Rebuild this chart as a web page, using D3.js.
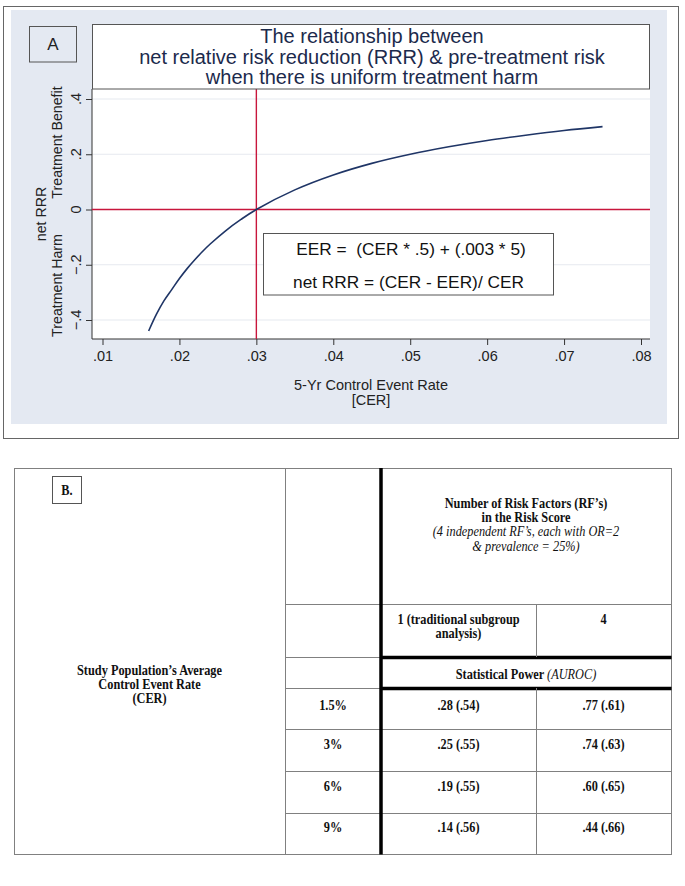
<!DOCTYPE html>
<html>
<head>
<meta charset="utf-8">
<script src="https://cdn.jsdelivr.net/npm/d3@7"></script>
<style>
  html, body { margin: 0; padding: 0; background: #fff; }
  svg { display: block; }
  text { white-space: pre; }
</style>
</head>
<body>
<div id="chart"></div>
<script>
// panel A: net RRR against 5-yr control event rate
const cerValues = [0.016, 0.017, 0.018, 0.019, 0.020, 0.021, 0.022, 0.023, 0.024, 0.026, 0.028, 0.030, 0.035, 0.040, 0.045, 0.050, 0.055, 0.060, 0.065, 0.070, 0.075];
const netRRR    = [-0.44, -0.38, -0.33, -0.29, -0.25, -0.214, -0.182, -0.152, -0.125, -0.077, -0.036, 0.0, 0.071, 0.125, 0.167, 0.20, 0.227, 0.25, 0.269, 0.286, 0.30];
const xTicks = [0.01, 0.02, 0.03, 0.04, 0.05, 0.06, 0.07, 0.08];
const yTicks = [-0.4, -0.2, 0, 0.2, 0.4];
const refCER = 0.03;   // vertical red line
const refRRR = 0;      // horizontal red line

const titleLines = ['The relationship between',
  'net relative risk reduction (RRR) & pre-treatment risk',
  'when there is uniform treatment harm'];
const formulaLines = ['EER =  (CER * .5) + (.003 * 5)', 'net RRR = (CER - EER)/ CER'];

// panel B: table
const cerRows = ['1.5%', '3%', '6%', '9%'];
const power1 = [0.28, 0.25, 0.19, 0.14];
const auroc1 = [0.54, 0.55, 0.55, 0.56];
const power4 = [0.77, 0.74, 0.60, 0.44];
const auroc4 = [0.61, 0.63, 0.65, 0.66];

(function(){
  const W = 685, H = 886;
  const svg = d3.select('#chart').append('svg').attr('width', W).attr('height', H);

  const sans = 'Liberation Sans, Arial, Helvetica, sans-serif';
  const serif = 'Liberation Serif, Times New Roman, serif';
  const navy = '#1f3566';
  const red = '#c8163c';

  // ---------- panel A ----------
  svg.append('rect').attr('x', 3.5).attr('y', 6.5).attr('width', 675).attr('height', 432)
    .attr('fill', '#fff').attr('stroke', '#666');
  svg.append('rect').attr('x', 11).attr('y', 10).attr('width', 656).attr('height', 414)
    .attr('fill', '#e4e9f2');

  const plot = { left: 92, right: 650, top: 89, bottom: 339 };
  const x = d3.scaleLinear().domain([0.01, 0.08]).range([102.5, 641]);
  const y = d3.scaleLinear().domain([-0.4, 0.4]).range([320, 99]);

  svg.append('rect').attr('x', plot.left).attr('y', plot.top)
    .attr('width', plot.right - plot.left).attr('height', plot.bottom - plot.top).attr('fill', '#fff');

  // gridlines
  svg.append('g').selectAll('line').data(yTicks.filter(d => d !== 0)).enter().append('line')
    .attr('x1', plot.left).attr('x2', plot.right)
    .attr('y1', d => y(d)).attr('y2', d => y(d))
    .attr('stroke', '#e6e9ef').attr('stroke-width', 1.2);

  // axes
  const xAxis = d3.axisBottom(x).tickValues(xTicks).tickSize(6).tickPadding(4)
    .tickFormat(d => d3.format('.2f')(d).replace(/^0/, ''));
  const gx = svg.append('g').attr('transform', `translate(0,${plot.bottom})`).call(xAxis);
  gx.select('.domain').remove();
  gx.selectAll('.tick line').attr('stroke', '#333');
  gx.selectAll('.tick text').attr('font-family', sans).attr('font-size', 14.5).attr('fill', '#222')
    .attr('y', 17).attr('dy', '0.36em');
  svg.append('line').attr('x1', plot.left).attr('x2', plot.right)
    .attr('y1', plot.bottom).attr('y2', plot.bottom).attr('stroke', '#333');

  const yAxis = d3.axisLeft(y).tickValues(yTicks).tickSize(6).tickFormat(() => '');
  const gy = svg.append('g').attr('transform', `translate(${plot.left},0)`).call(yAxis);
  gy.select('.domain').remove();
  gy.selectAll('.tick line').attr('stroke', '#333');
  svg.append('line').attr('x1', plot.left).attr('x2', plot.left)
    .attr('y1', plot.top).attr('y2', plot.bottom).attr('stroke', '#333');

  // rotated y tick labels
  svg.append('g').selectAll('text').data(yTicks).enter().append('text')
    .attr('transform', d => `translate(76,${y(d)}) rotate(-90)`)
    .attr('text-anchor', 'middle').attr('dy', '0.36em')
    .attr('font-family', sans).attr('font-size', 14.5).attr('fill', '#222')
    .text(d => d === 0 ? '0' : d3.format('.1f')(d).replace('0.', '.'));

  // reference lines
  svg.append('line').attr('x1', x(refCER)).attr('x2', x(refCER))
    .attr('y1', plot.top).attr('y2', plot.bottom).attr('stroke', red).attr('stroke-width', 1.4);
  svg.append('line').attr('x1', plot.left).attr('x2', plot.right)
    .attr('y1', y(refRRR)).attr('y2', y(refRRR)).attr('stroke', red).attr('stroke-width', 1.4);

  // curve
  const pts = cerValues.map((c, i) => [c, netRRR[i]]);
  svg.append('path').datum(pts)
    .attr('d', d3.line().x(d => x(d[0])).y(d => y(d[1])).curve(d3.curveCatmullRom))
    .attr('fill', 'none').attr('stroke', navy).attr('stroke-width', 1.6);

  // title box
  svg.append('rect').attr('x', 92.5).attr('y', 24.5).attr('width', 557).attr('height', 64.5)
    .attr('fill', '#fff').attr('stroke', '#555');
  svg.append('g').selectAll('text').data(titleLines).enter().append('text')
    .attr('x', 372).attr('y', (d, i) => 36 + i * 20.5).attr('dy', '0.36em')
    .attr('text-anchor', 'middle').attr('font-family', sans).attr('font-size', 20)
    .attr('fill', '#1c2a4c').text(d => d);

  // "A" box
  svg.append('rect').attr('x', 29.5).attr('y', 26.5).attr('width', 47).attr('height', 35.5)
    .attr('fill', '#e4e9f2').attr('stroke', '#555');
  svg.append('text').attr('x', 53).attr('y', 44).attr('dy', '0.36em').attr('text-anchor', 'middle')
    .attr('font-family', sans).attr('font-size', 17).attr('fill', '#222').text('A');

  // formula box
  svg.append('rect').attr('x', 263.5).attr('y', 233.5).attr('width', 290).attr('height', 61.5)
    .attr('fill', '#fff').attr('stroke', '#555');
  svg.append('g').selectAll('text').data(formulaLines).enter().append('text')
    .attr('x', (d, i) => i === 0 ? 411 : 408.5).attr('y', (d, i) => 249 + i * 33).attr('dy', '0.36em')
    .attr('text-anchor', 'middle').attr('font-family', sans).attr('font-size', 17.3)
    .attr('fill', '#111').text(d => d);

  // axis titles
  svg.append('g').selectAll('text').data(['5-Yr Control Event Rate', '[CER]']).enter().append('text')
    .attr('x', 371).attr('y', (d, i) => 385 + i * 14.5).attr('dy', '0.36em')
    .attr('text-anchor', 'middle').attr('font-family', sans).attr('font-size', 14.5)
    .attr('fill', '#222').text(d => d);

  const yLabels = [
    { t: 'net RRR', x: 41, y: 214 },
    { t: 'Treatment Benefit', x: 57, y: 142.5 },
    { t: 'Treatment Harm', x: 57, y: 285.5 }
  ];
  svg.append('g').selectAll('text').data(yLabels).enter().append('text')
    .attr('transform', d => `translate(${d.x},${d.y}) rotate(-90)`)
    .attr('text-anchor', 'middle').attr('dy', '0.36em')
    .attr('font-family', sans).attr('font-size', 14.2).attr('fill', '#222').text(d => d.t);

  // ---------- panel B ----------
  const cols = { a: 14, b: 285, c: 381, d: 536, e: 671 };
  const rows = [468, 604, 657, 688, 729, 771, 813, 854];
  const thin = '#808080';
  const gB = svg.append('g');

  function hline(x1, x2, yy, stroke, w) {
    gB.append('line').attr('x1', x1).attr('x2', x2).attr('y1', yy).attr('y2', yy)
      .attr('stroke', stroke).attr('stroke-width', w);
  }
  function vline(xx, y1, y2, stroke, w) {
    gB.append('line').attr('x1', xx).attr('x2', xx).attr('y1', y1).attr('y2', y2)
      .attr('stroke', stroke).attr('stroke-width', w);
  }

  // outer border
  gB.append('rect').attr('x', cols.a + 0.5).attr('y', rows[0] + 0.5)
    .attr('width', cols.e - cols.a).attr('height', rows[7] - rows[0])
    .attr('fill', '#fff').attr('stroke', thin);
  vline(cols.b + 0.5, rows[0], rows[7], thin, 1);
  [1, 4, 5, 6].forEach(i => hline(cols.b, cols.e, rows[i] + 0.5, thin, 1));
  [2, 3].forEach(i => hline(cols.b, cols.c, rows[i] + 0.5, thin, 1));
  [2, 3].forEach(i => hline(cols.c, cols.e + 0.5, rows[i] + 0.5, '#000', 3.5));
  vline(cols.d + 0.5, rows[1], rows[2], thin, 1);
  vline(cols.d + 0.5, rows[3], rows[7], thin, 1);
  vline(cols.c, rows[0], rows[7] + 0.5, '#000', 3.5);

  // narrow, tall serif like the scanned table
  const sx = 0.88;
  function cellText(lines, cx, cy) {
    const t = gB.append('text').attr('transform', `translate(${cx},${cy}) scale(${sx},1)`)
      .attr('text-anchor', 'middle')
      .attr('font-family', serif).attr('font-size', 14).attr('fill', '#111');
    lines.forEach((ln, i) => {
      const ts = t.append('tspan').attr('x', 0).attr('y', i * 14.3).attr('dy', '0.35em');
      ln.forEach(seg => {
        ts.append('tspan').attr('font-weight', seg.b ? 'bold' : 'normal')
          .attr('font-style', seg.i ? 'italic' : 'normal').text(seg.t);
      });
    });
    return t;
  }

  // "B." box
  gB.append('rect').attr('x', 52.5).attr('y', 476.5).attr('width', 29).attr('height', 27)
    .attr('fill', '#fff').attr('stroke', '#555');
  cellText([[{ t: 'B.', b: true }]], 67, 490);

  cellText([[{ t: 'Study Population’s Average', b: true }],
            [{ t: 'Control Event Rate', b: true }],
            [{ t: '(CER)', b: true }]], (cols.a + cols.b) / 2, 670);

  const midRight = (cols.c + cols.e) / 2;
  cellText([[{ t: 'Number of Risk Factors (RF’s)', b: true }],
            [{ t: 'in the Risk Score', b: true }],
            [{ t: '(4 independent RF’s, each with OR=2', i: true }],
            [{ t: '& prevalence = 25%)', i: true }]], midRight, 503);

  cellText([[{ t: '1 (traditional subgroup', b: true }],
            [{ t: 'analysis)', b: true }]], (cols.c + cols.d) / 2, 619);
  cellText([[{ t: '4', b: true }]], (cols.d + cols.e) / 2, 619);

  cellText([[{ t: 'Statistical Power ', b: true }, { t: '(AUROC)', i: true }]], midRight, 674);

  const fmt = v => d3.format('.2f')(v).replace(/^0/, '');
  const rowY = [705, 744, 786, 827];
  cerRows.forEach((lab, i) => {
    cellText([[{ t: lab, b: true }]], (cols.b + cols.c) / 2, rowY[i]);
    cellText([[{ t: `${fmt(power1[i])} (${fmt(auroc1[i])})`, b: true }]], (cols.c + cols.d) / 2, rowY[i]);
    cellText([[{ t: `${fmt(power4[i])} (${fmt(auroc4[i])})`, b: true }]], (cols.d + cols.e) / 2, rowY[i]);
  });
})();
</script>
</body>
</html>
